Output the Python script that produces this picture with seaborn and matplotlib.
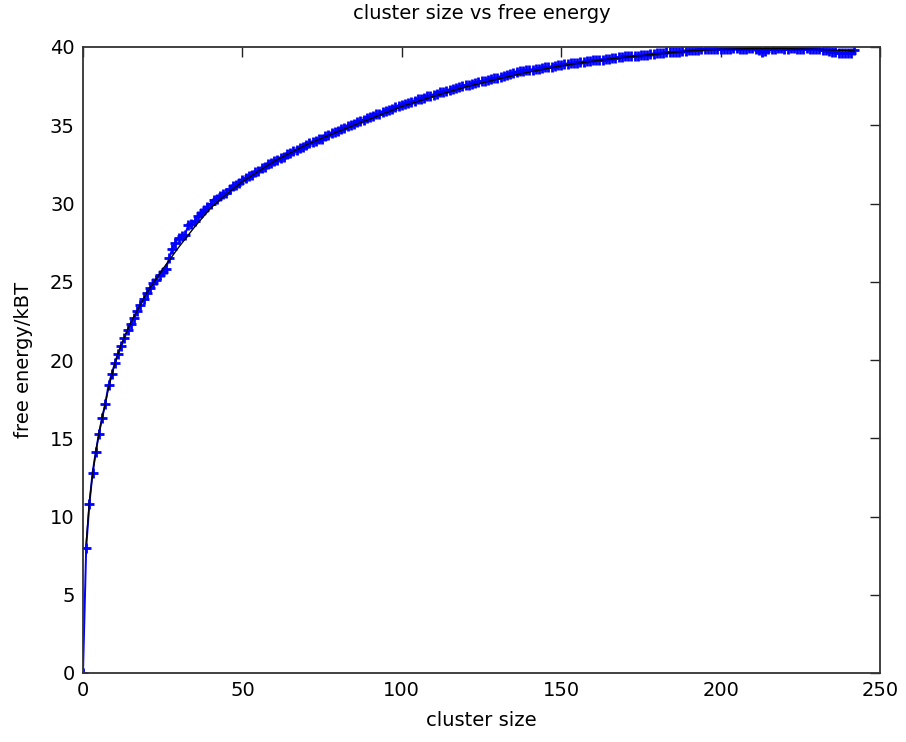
import numpy as np
import pandas as pd
import matplotlib
matplotlib.use("Agg")
import matplotlib.pyplot as plt
import seaborn as sns

# measured free energy per cluster size (blue, '+' markers)
free_energy = [
    0.0, 8.0, 10.8, 12.8, 14.1, 15.3, 16.3, 17.2, 18.4, 19.1,
    19.8, 20.4, 20.9, 21.4, 21.9, 22.3, 22.7, 23.1, 23.5, 23.9,
    24.3, 24.6, 24.9, 25.1, 25.4, 25.6, 25.8, 26.5, 27.1, 27.5,
    27.8, 27.9, 28.0, 28.6, 28.7, 28.9, 29.2, 29.4, 29.6, 29.8,
    30.0, 30.2, 30.3, 30.5, 30.6, 30.7, 30.9, 31.1, 31.2, 31.3,
    31.5, 31.6, 31.75, 31.85, 32.0, 32.1, 32.25, 32.35, 32.5, 32.6,
    32.7, 32.8, 32.9, 33.0, 33.15, 33.25, 33.35, 33.45, 33.55, 33.6,
    33.75, 33.85, 33.9, 34.0, 34.1, 34.15, 34.3, 34.4, 34.5, 34.55,
    34.65, 34.75, 34.85, 34.95, 35.0, 35.1, 35.2, 35.3, 35.35, 35.45,
    35.55, 35.6, 35.7, 35.75, 35.85, 35.9, 36.0, 36.05, 36.15, 36.2,
    36.3, 36.35, 36.45, 36.5, 36.55, 36.65, 36.7, 36.75, 36.85, 36.9,
    36.95, 37.0, 37.1, 37.15, 37.2, 37.25, 37.3, 37.35, 37.45, 37.5,
    37.55, 37.6, 37.65, 37.7, 37.75, 37.8, 37.85, 37.9, 37.95, 38.0,
    38.05, 38.1, 38.15, 38.2, 38.3, 38.35, 38.4, 38.45, 38.45, 38.5,
    38.55, 38.55, 38.6, 38.6, 38.65, 38.7, 38.7, 38.75, 38.8, 38.85,
    38.85, 38.9, 38.9, 38.95, 39.0, 39.0, 39.05, 39.05, 39.1, 39.1,
    39.15, 39.15, 39.2, 39.2, 39.25, 39.25, 39.3, 39.3, 39.35, 39.35,
    39.4, 39.4, 39.4, 39.45, 39.45, 39.5, 39.5, 39.5, 39.55, 39.55,
    39.6, 39.6, 39.6, 39.65, 39.65, 39.7, 39.7, 39.7, 39.75, 39.75,
    39.8, 39.8, 39.8, 39.8, 39.85, 39.85, 39.85, 39.85, 39.9, 39.9,
    39.9, 39.9, 39.9, 39.9, 39.95, 39.95, 39.9, 39.9, 39.9, 39.95,
    39.95, 39.9, 39.8, 39.7, 39.75, 39.85, 39.9, 39.9, 39.95, 39.95,
    39.9, 39.9, 39.95, 39.95, 39.9, 39.9, 39.9, 39.95, 39.9, 39.9,
    39.85, 39.85, 39.8, 39.8, 39.75, 39.7, 39.65, 39.6, 39.6, 39.6,
    39.6, 39.6, 39.8,
]
cluster_size = list(range(len(free_energy)))

# smooth fit (black line)
fit_size = [1, 2, 3, 4, 5, 6, 8, 10, 12, 15, 20, 25, 30, 35, 40, 45, 50,
            60, 70, 80, 90, 100, 110, 120, 130, 140, 150, 160, 170, 180,
            190, 200, 210, 220, 230, 242]
fit_energy = [8.3, 10.9, 12.7, 14.1, 15.3, 16.3, 18.2, 19.8, 21.0, 22.4,
              24.3, 25.8, 27.2, 28.5, 29.7, 30.6, 31.4, 32.7, 33.75, 34.6,
              35.4, 36.2, 36.85, 37.45, 37.95, 38.4, 38.8, 39.1, 39.35, 39.55,
              39.75, 39.85, 39.9, 39.9, 39.85, 39.75]

df = pd.DataFrame({"size": cluster_size, "energy": free_energy})
df_fit = pd.DataFrame({"size": fit_size, "energy": fit_energy})

sns.set_style("white")
plt.rcParams["font.family"] = ["DejaVu Sans"]
plt.rcParams["text.color"] = "black"
plt.rcParams["axes.labelcolor"] = "black"
plt.rcParams["xtick.color"] = "black"
plt.rcParams["ytick.color"] = "black"

fig = plt.figure(figsize=(9.06, 7.42), dpi=100)
ax = fig.add_axes([83 / 906, 69 / 742, 797 / 906, 626 / 742])

sns.lineplot(data=df, x="size", y="energy", ax=ax, color="blue",
             linewidth=1.4, marker="+", markersize=7, markeredgewidth=2.0,
             markeredgecolor="blue", errorbar=None, zorder=2)
sns.lineplot(data=df_fit, x="size", y="energy", ax=ax, color="black",
             linewidth=1.0, errorbar=None, zorder=3)

ax.set_xlim(0, 250)
ax.set_ylim(0, 40)
ax.set_xticks(np.arange(0, 251, 50))
ax.set_yticks(np.arange(0, 41, 5))
ax.tick_params(direction="in", length=7, width=1.0, color="#222222",
               labelsize=14, pad=6, top=True, right=True,
               labeltop=False, labelright=False)
for sp in ax.spines.values():
    sp.set_color("#333333")
    sp.set_linewidth(1.3)
    sp.set_visible(True)

ax.set_title("cluster size vs free energy", fontsize=14, pad=20)
ax.set_xlabel("cluster size", fontsize=14, labelpad=8)
ax.set_ylabel("free energy/kBT", fontsize=14, labelpad=12)

fig.savefig("out.png", dpi=100, facecolor="white")
